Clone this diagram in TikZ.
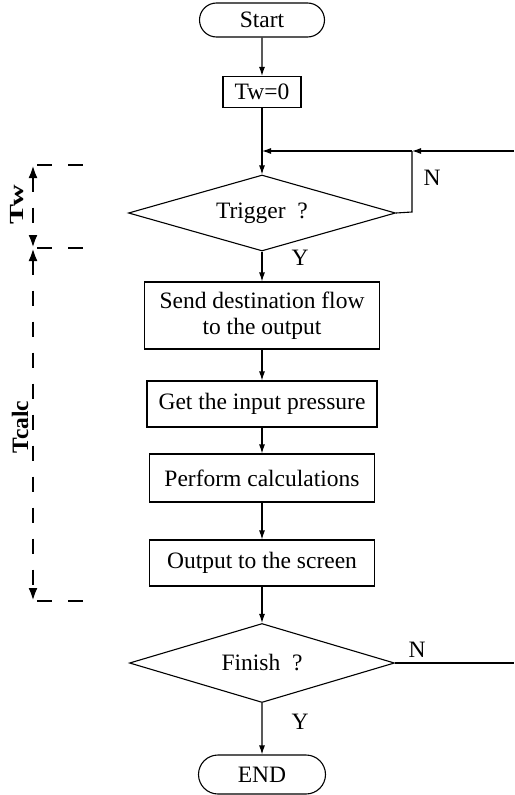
\documentclass[tikz,border=0pt]{standalone}
\usepackage{fontspec}
\usepackage{graphicx}
\setmainfont{Liberation Serif}
\usetikzlibrary{arrows.meta,shapes.geometric,shapes.misc}
\begin{document}
\begin{tikzpicture}[x=1pt,y=-1pt,
  every node/.style={font=\fontsize{23.5}{26}\selectfont},
  box/.style={draw,line width=1.1pt,rectangle,inner sep=0pt,align=center},
  term/.style={draw,line width=1.1pt,rounded rectangle,inner sep=0pt},
  dec/.style={draw,line width=1.1pt,diamond,aspect=3.5,inner sep=0pt},
  line/.style={line width=1.1pt},
  arr/.style={line width=1.1pt,-{Latex[length=9pt,width=6pt]}},
  dsh/.style={line width=2.6pt,dash pattern=on 15pt off 16pt},
  dsharr/.style={dsh,{Latex[length=13pt,width=9pt]}-{Latex[length=13pt,width=9pt]}},
  lbl/.style={inner sep=0pt}
]
\useasboundingbox (0,0) rectangle (514,795);

\node[term,minimum width=125pt,minimum height=34pt] (start) at (262,20) {Start};
\node[box,minimum width=78pt,minimum height=31pt] (tw0) at (262,92) {Tw=0};
\node[dec,minimum width=267pt,minimum height=76pt] (trig) at (262,213) {Trigger~ ?};
\node[box,minimum width=235pt,minimum height=67pt] (send) at (262,315.5) {Send destination flow\\to the output};
\node[box,minimum width=230pt,minimum height=46pt] (get) at (262,404) {Get the input pressure};
\node[box,minimum width=225pt,minimum height=48pt] (perf) at (262,478) {Perform calculations};
\node[box,minimum width=225pt,minimum height=46pt] (out) at (262,563) {Output to the screen};
\node[dec,minimum width=265pt,minimum height=79pt] (fin) at (262,663) {Finish~ ?};
\node[term,minimum width=127pt,minimum height=39pt] (end) at (262,774.5) {END};

\coordinate (j1) at (262,151);
\coordinate (j2) at (412,151);
\coordinate (j3) at (412,212);
\coordinate (rin) at (514,151);
\coordinate (rout) at (514,663);

\draw[arr] (start) -- (tw0);
\draw[arr] (tw0) -- (trig.north);
\draw[arr] (rin) -- (j2);
\draw[arr] (j2) -- (j1);
\draw[line] (trig.east) -- (j3) -- (j2);
\draw[arr] (trig.south) -- (send);
\draw[arr] (send) -- (get);
\draw[arr] (get) -- (perf);
\draw[arr] (perf) -- (out);
\draw[arr] (out) -- (fin.north);
\draw[line] (fin.east) -- (rout);
\draw[arr] (fin.south) -- (end);

\node[lbl] (n1) at (432,178) {N};
\node[lbl] (y1) at (300,258) {Y};
\node[lbl] (n2) at (417,650) {N};
\node[lbl] (y2) at (300,722) {Y};

% timing marks
\coordinate (a1) at (33,165);
\coordinate (a2) at (33,248);
\coordinate (a3) at (33,601);
\coordinate (h1a) at (37,165); \coordinate (h1b) at (85,165);
\coordinate (h2a) at (37,248); \coordinate (h2b) at (85,248);
\coordinate (h3a) at (37,601); \coordinate (h3b) at (85,601);
\draw[dsharr] (a1) -- (a2);
\draw[dsharr] (a2) -- (a3);
\draw[dsh] (h1a) -- (h1b);
\draw[dsh] (h2a) -- (h2b);
\draw[dsh] (h3a) -- (h3b);
\node[lbl,rotate=90,font=\fontsize{20}{24}\selectfont\bfseries] (tw) at (17,205) {\scalebox{1.5}[1]{Tw}};
\node[lbl,rotate=90,font=\fontsize{23.5}{26}\selectfont\bfseries] (tc) at (20,427) {Tcalc};
\end{tikzpicture}
\end{document}
